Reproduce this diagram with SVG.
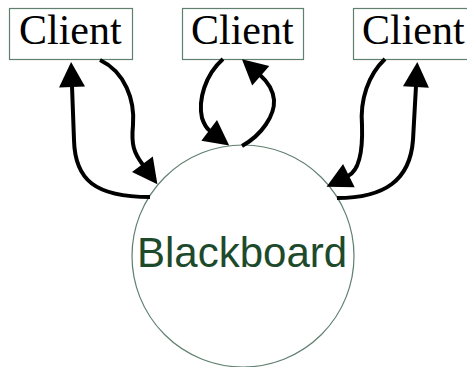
<svg xmlns="http://www.w3.org/2000/svg" width="467" height="367" viewBox="0 0 467 367">
<style>
.box{fill:#fff;stroke:#5f7f6f;stroke-width:1.2}
.ct{font-family:"Liberation Serif","Times New Roman",serif;font-size:42px;fill:#000}
.bb{fill:#fff;stroke:#5f7f6f;stroke-width:1.2}
.bt{font-family:"Liberation Sans",Arial,sans-serif;font-size:42px;fill:#1e4a2c}
.arr{fill:none;stroke:#000;stroke-width:4;marker-end:url(#ah)}
</style>
<defs>
<marker id="ah" markerUnits="userSpaceOnUse" markerWidth="26" markerHeight="27" refX="0" refY="13" orient="auto" overflow="visible">
<path d="M-1,0 L24,13 L-1,26 z" fill="#000"/>
</marker>
</defs>
<rect width="467" height="367" fill="#fff"/>
<g id="blackboard">
<circle class="bb" cx="243" cy="256" r="111"/>
<text class="bt" x="137" y="267">Blackboard</text>
</g>
<g id="client1">
<rect class="box" x="9.5" y="8.5" width="123" height="51"/>
<text class="ct" x="19" y="44">Client</text>
</g>
<g id="client2">
<rect class="box" x="182.5" y="8.5" width="121" height="51"/>
<text class="ct" x="191" y="44">Client</text>
</g>
<g id="client3">
<rect class="box" x="353.5" y="8.5" width="123" height="51"/>
<text class="ct" x="362" y="44">Client</text>
</g>
<g id="connectors">
<path class="arr" d="M150,197 C95,197 75,180 74,140 L72,86"/>
<path class="arr" d="M100,60 C125,72 135,100 133,125 C131,145 134,153 143,165"/>
<path class="arr" d="M223,59 C205,75 198,100 202,118 C204,124 206,128 210,131"/>
<path class="arr" d="M242,146 C262,135 275,115 274,100 C273,90 268,82 260,75"/>
<path class="arr" d="M385,59 C368,75 360,100 362,125 C363,155 358,171 348,176"/>
<path class="arr" d="M337,198 C385,198 410,180 413,140 L416,86"/>
</g>
</svg>
